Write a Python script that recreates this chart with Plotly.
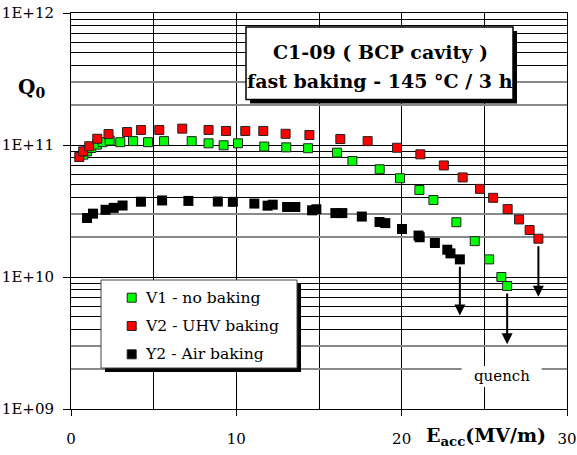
import math
import plotly.graph_objects as go

# ---------------- data ----------------
v1_x = [0.75, 0.97, 1.23, 1.57, 1.91, 2.34, 2.98, 3.75, 4.66, 5.63, 7.30, 8.32, 9.23, 10.10,
        11.69, 13.02, 14.34, 16.09, 17.02, 18.67, 19.90, 21.07, 21.92, 23.31, 24.42, 25.29,
        26.03, 26.38]
v1_q = [8.45e10, 8.95e10, 9.49e10, 1.007e11, 1.05e11, 1.08e11, 1.05e11, 1.07e11, 1.05e11,
        1.07e11, 1.07e11, 1.03e11, 9.95e10, 1.03e11, 9.73e10, 9.6e10, 9.45e10, 8.75e10,
        7.56e10, 6.55e10, 5.6e10, 4.56e10, 3.83e10, 2.6e10, 1.87e10, 1.36e10, 1.0e10, 8.55e9]

v2_x = [0.50, 0.74, 1.10, 1.59, 2.27, 3.39, 4.23, 5.34, 6.73, 8.32, 9.38, 10.54, 11.63, 12.98,
        14.42, 16.29, 17.94, 19.72, 21.13, 22.55, 23.69, 24.74, 25.53, 26.41, 27.10, 27.74,
        28.27]
v2_q = [8.11e10, 8.95e10, 9.78e10, 1.115e11, 1.21e11, 1.254e11, 1.30e11, 1.30e11, 1.33e11,
        1.30e11, 1.277e11, 1.277e11, 1.277e11, 1.216e11, 1.19e11, 1.11e11, 1.07e11, 9.53e10,
        8.5e10, 7.0e10, 5.68e10, 4.65e10, 3.98e10, 3.27e10, 2.73e10, 2.27e10, 1.95e10]

y2_x = [0.97, 1.33, 2.09, 2.58, 3.12, 4.23, 5.51, 7.10, 8.88, 9.79, 11.09, 11.89, 12.20, 13.07,
        13.57, 14.58, 14.84, 15.99, 16.41, 17.59, 18.66, 19.01, 20.02, 21.02, 21.09, 22.01,
        22.76, 22.95, 23.52]
y2_q = [2.8e10, 3.02e10, 3.23e10, 3.34e10, 3.48e10, 3.72e10, 3.80e10, 3.77e10, 3.73e10,
        3.71e10, 3.60e10, 3.47e10, 3.53e10, 3.39e10, 3.39e10, 3.20e10, 3.26e10, 3.05e10,
        3.05e10, 2.87e10, 2.61e10, 2.56e10, 2.31e10, 2.06e10, 2.0e10, 1.81e10, 1.61e10,
        1.51e10, 1.36e10]

series_names = ["V1 - no baking", "V2 - UHV baking", "Y2 - Air baking"]
series_colors = ["#00FF00", "#FF0000", "#000000"]
quench_end_q = [3.1e9, 7.1e9, 5.1e9]   # arrow tips (Q0) for V1, V2, Y2

x_tickvals = [0, 10, 20, 30]
y_tickvals = [1e9, 1e10, 1e11, 1e12]
y_ticktext = ["1E+09", "1E+10", "1E+11", "1E+12"]

title_lines = ["C1-09 ( BCP cavity )", "fast baking - 145 °C / 3 h"]
x_title = "E<sub>acc</sub>(MV/m)"
y_title = "Q<sub>0</sub>"

# ---------------- layout helpers ----------------
W, H = 577, 455
ML, MR, MT, MB = 71, 10, 13, 46
PW, PH = W - ML - MR, H - MT - MB


def fx(px):
    return (px - ML) / PW


def fy(py):
    return (H - MB - py) / PH


FONT = "DejaVu Serif"

fig = go.Figure()
xs = [v1_x, v2_x, y2_x]
qs = [v1_q, v2_q, y2_q]
for i in range(3):
    fig.add_trace(go.Scatter(
        x=xs[i], y=qs[i], mode="markers", name=series_names[i], showlegend=False,
        marker=dict(symbol="square", size=9 if i < 2 else 10, color=series_colors[i],
                    line=dict(color="#222" if i < 2 else "#000", width=1 if i < 2 else 0)),
    ))

# dummy trace so the overlay axis with the grey grid lines is drawn
fig.add_trace(go.Scatter(x=[], y=[], yaxis="y2", showlegend=False))

minor_black = [k * 10 ** d for d in range(9, 12) for k in range(4, 10)]
minor_grey = [k * 10 ** d for d in range(9, 12) for k in (2, 3)]

fig.update_layout(
    width=W, height=H,
    margin=dict(l=ML, r=MR, t=MT, b=MB, autoexpand=False),
    paper_bgcolor="white", plot_bgcolor="white",
    font=dict(family=FONT, size=15, color="black"),
    showlegend=False,
    xaxis=dict(
        range=[0, 30], tickvals=x_tickvals, ticks="outside", ticklen=6, tickcolor="black",
        showgrid=True, gridcolor="black", gridwidth=1, zeroline=False, automargin=False,
        showline=True, linecolor="black", linewidth=1, mirror=True,
        ticklabelstandoff=10, tickfont=dict(family=FONT, size=15),
        minor=dict(dtick=5, showgrid=True, gridcolor="black", gridwidth=1, ticks=""),
    ),
    yaxis=dict(
        type="log", range=[9, 12], tickvals=y_tickvals, ticktext=y_ticktext,
        ticks="outside", ticklen=7, tickcolor="black", automargin=False,
        showgrid=True, gridcolor="black", gridwidth=1, zeroline=False,
        showline=True, linecolor="black", linewidth=1, mirror=True,
        ticklabelstandoff=6, tickfont=dict(family=FONT, size=15),
        minor=dict(tickmode="array", tickvals=minor_black, showgrid=True,
                   gridcolor="black", gridwidth=1, ticks=""),
    ),
    yaxis2=dict(
        type="log", range=[9, 12], overlaying="y", side="left", tickvals=minor_grey,
        showticklabels=False, ticks="", showgrid=True, gridcolor="#8a8a8a", gridwidth=1.5,
        showline=False, zeroline=False, automargin=False,
    ),
)

shapes = []
annotations = []

# title box with shadow
bx0, bx1, by0, by1 = 246, 513, 27, 99.5
shapes.append(dict(type="rect", xref="paper", yref="paper", layer="above",
                   x0=fx(bx0 + 4), x1=fx(bx1 + 4), y0=fy(by1 + 4), y1=fy(by0 + 4),
                   fillcolor="black", line=dict(width=0)))
shapes.append(dict(type="rect", xref="paper", yref="paper", layer="above",
                   x0=fx(bx0), x1=fx(bx1), y0=fy(by1), y1=fy(by0),
                   fillcolor="white", line=dict(color="black", width=1.5)))
for line_text, py in zip(title_lines, [52, 81]):
    annotations.append(dict(text="<b>" + line_text + "</b>", xref="paper", yref="paper",
                            x=fx(380), y=fy(py), xanchor="center", yanchor="middle",
                            showarrow=False, font=dict(family=FONT, size=19, color="black")))

# legend box with shadow
lx0, lx1, ly0, ly1 = 101, 297, 280, 368
shapes.append(dict(type="rect", xref="paper", yref="paper", layer="above",
                   x0=fx(lx0 + 4), x1=fx(lx1 + 4), y0=fy(ly1 + 4), y1=fy(ly0 + 4),
                   fillcolor="black", line=dict(width=0)))
shapes.append(dict(type="rect", xref="paper", yref="paper", layer="above",
                   x0=fx(lx0), x1=fx(lx1), y0=fy(ly1), y1=fy(ly0),
                   fillcolor="white", line=dict(color="#444", width=1)))
for i, row_y in enumerate([297.7, 326, 354.3]):
    s = 4.5
    shapes.append(dict(type="rect", xref="paper", yref="paper", layer="above",
                       x0=fx(131.7 - s), x1=fx(131.7 + s), y0=fy(row_y + s), y1=fy(row_y - s),
                       fillcolor=series_colors[i], line=dict(color="#222", width=1)))
    annotations.append(dict(text=series_names[i], xref="paper", yref="paper",
                            x=fx(142.7), y=fy(row_y), xanchor="left", yanchor="middle",
                            showarrow=False, font=dict(family=FONT, size=15.6, color="black")))

# quench label with white background
shapes.append(dict(type="rect", xref="paper", yref="paper", layer="above",
                   x0=fx(461.7), x1=fx(541.7), y0=fy(387), y1=fy(366),
                   fillcolor="white", line=dict(width=0)))
annotations.append(dict(text="quench", xref="paper", yref="paper", x=fx(501.7), y=fy(376),
                        xanchor="center", yanchor="middle", showarrow=False,
                        font=dict(family=FONT, size=15, color="black")))

# quench arrows from the last point of each series
for i in range(3):
    xe, qe = xs[i][-1], qs[i][-1]
    annotations.append(dict(
        x=xe, y=math.log10(quench_end_q[i]), xref="x", yref="y",
        ax=xe, ay=math.log10(qe), axref="x", ayref="y",
        text="", showarrow=True, arrowhead=2, arrowsize=1.1, arrowwidth=2,
        arrowcolor="black", startstandoff=6,
    ))

# axis titles
annotations.append(dict(text="<b>" + y_title + "</b>", xref="paper", yref="paper",
                        x=fx(31), y=fy(88), xanchor="center", yanchor="middle",
                        showarrow=False, font=dict(family=FONT, size=20, color="black")))
annotations.append(dict(text="<b>" + x_title + "</b>", xref="paper", yref="paper",
                        x=fx(486), y=fy(436), xanchor="center", yanchor="middle",
                        showarrow=False, font=dict(family=FONT, size=19, color="black")))

fig.update_layout(shapes=shapes, annotations=annotations)
fig.write_html("out.html", config={"displayModeBar": False},
               post_script="document.body.style.margin='0px';")
